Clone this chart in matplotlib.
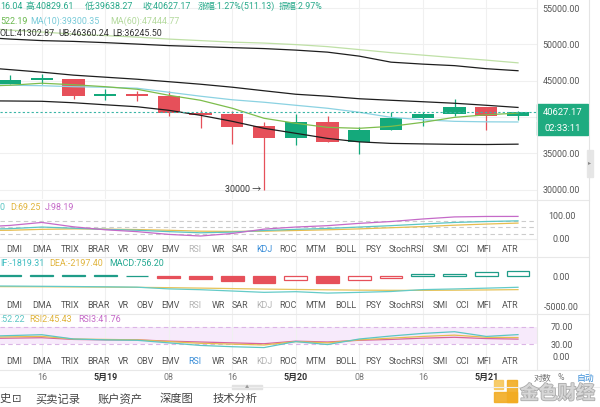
import numpy as np
import matplotlib
matplotlib.use('Agg')
import matplotlib.pyplot as plt
from matplotlib.patches import Rectangle
from matplotlib import patheffects
from matplotlib.transforms import blended_transform_factory

plt.rcParams['font.family'] = ['Roboto', 'Noto Sans CJK SC', 'DejaVu Sans']

# ---- data (4h candles, first one is just off the left edge) ----
idx = np.arange(-1, 17)
opens = [44300, 44600, 45100, 45190, 42900, 43200, 42850, 40600, 40350, 38700,
         37150, 39300, 36500, 38250, 39850, 40400, 41300, 40116.04]
closes = [44600, 45150, 45250, 42890, 43200, 42850, 40600, 40300, 38600, 37150,
          39250, 36550, 38250, 39900, 40450, 41350, 40116.04, 40627.17]
highs = [44900, 45750, 45850, 45200, 43800, 43600, 43550, 40900, 40780, 39300,
         40350, 40100, 38550, 40680, 40700, 42400, 41400, 40829.61]
lows = [44100, 44550, 44600, 42430, 42300, 42150, 40100, 38450, 36300, 30000,
        36100, 36500, 34850, 38250, 38700, 40100, 38150, 39638.27]

ma5 = [44230, 44360, 44640, 44430, 44160, 43810, 42980, 42290, 41190, 39810,
       39120, 38560, 38430, 38700, 39250, 39940, 40290, 40522.19]
ma10 = [44500, 44360, 44300, 44160, 44090, 43950, 43400, 42850, 42360, 42020,
        41600, 41190, 40640, 39940, 39600, 39390, 39320, 39300.35]
ma60 = [52240, 51960, 51690, 51410, 51200, 50990, 50720, 50510, 50300, 50170,
        49960, 49680, 49270, 48850, 48510, 48160, 47820, 47444.77]
boll_mid = [46850, 46510, 46160, 45750, 45470, 45190, 44850, 44500, 44090, 43600,
            43120, 42850, 42500, 42290, 42090, 41880, 41600, 41302.87]
boll_ub = [50990, 50720, 50510, 50400, 50230, 50030, 49820, 49680, 49540, 49410,
           49200, 48920, 48370, 47540, 47270, 47060, 46640, 46360.24]
boll_lb = [42220, 42190, 42150, 41950, 41670, 41400, 40910, 40220, 39390, 38430,
           37740, 37040, 36560, 36350, 36280, 36220, 36200, 36245.50]

kdj_k = [42, 45, 52, 47, 42, 38, 32, 27, 30, 37, 42, 46, 52, 58, 65, 72, 76, 78.90]
kdj_d = [37, 38, 42, 44, 43, 41, 38, 34, 33, 34, 37, 40, 44, 49, 54, 60, 65, 69.25]
kdj_j = [52, 59, 72, 53, 40, 32, 20, 13, 24, 43, 52, 58, 68, 76, 87, 96, 98, 98.19]

macd_dea = [-1700, -1715, -1735, -1760, -1790, -1830, -1880, -1950, -2030, -2110,
            -2170, -2230, -2280, -2310, -2320, -2290, -2250, -2197.40]
macd_dif = [-1600, -1625, -1660, -1700, -1745, -1800, -2080, -2210, -2420, -2635,
            -2530, -2755, -2640, -2500, -2195, -2090, -1960, -1819.31]
macd_hist = [200, 180, 150, 120, 90, 60, -400, -520, -780, -1050,
             -720, -1050, -720, -380, 250, 400, 580, 756.20]

rsi1 = [48, 50, 52, 42, 40, 39, 33, 27, 24, 22, 36, 29, 42, 49, 55, 59, 48, 52.22]
rsi2 = [46, 47, 48, 42, 41, 40, 36, 32, 30, 28, 36, 33, 40, 44, 48, 51, 46, 45.43]
rsi3 = [43, 44, 45, 41, 40, 40, 37, 35, 33, 31, 37, 35, 39, 41, 44, 46, 43, 41.76]

date_idx = [1, 3, 5, 7, 9, 11, 13, 15]
date_labels = ['16', '5月19', '08', '16', '5月20', '08', '16', '5月21']
tabs = ['DMI', 'DMA', 'TRIX', 'BRAR', 'VR', 'OBV', 'EMV', 'RSI', 'WR', 'SAR', 'KDJ',
        'ROC', 'MTM', 'BOLL', 'PSY', 'StochRSI', 'SMI', 'CCI', 'MFI', 'ATR']

# layout helpers
W, H = 600, 407
TAB_X = [14, 42, 70, 98, 123, 145, 170, 195, 218, 240, 264, 288, 316, 346, 373,
         407, 440, 462, 484, 510]
GREEN = '#14a97b'
RED = '#e6505a'
GREY = '#555555'
LIGHT = '#b4b4b4'
BLUE = '#3b8ed8'
FS = 6.4

fig = plt.figure(figsize=(6, 4.07), dpi=100)
fig.patch.set_facecolor('white')
renderer = fig.canvas.get_renderer()


def fy(y):
    return 1 - y / H


def make_ax(y0, y1, va, ya, vb, yb, ticks, labels):
    ax = fig.add_axes([0, fy(y1), 537 / W, (y1 - y0) / H])
    slope = (va - vb) / (yb - ya)
    ax.set_ylim(va - (y1 - ya) * slope, va + (ya - y0) * slope)
    ax.set_xlim((0 - 10) / 31.75, (537 - 10) / 31.75)
    for s in ax.spines.values():
        s.set_visible(False)
    ax.set_xticks(range(1, 17, 2))
    ax.tick_params(axis='x', length=0, labelbottom=False)
    ax.grid(axis='x', color='#f0f0f0', lw=0.8)
    ax.yaxis.tick_right()
    ax.set_yticks(ticks)
    ax.set_yticklabels(labels)
    # labels centred at about x=561
    ax.tick_params(axis='y', length=0, pad=17.6, labelsize=FS, labelcolor=GREY)
    for lab in ax.get_yticklabels():
        lab.set_horizontalalignment('center')
    ax.set_axisbelow(True)
    ax.patch.set_alpha(0)
    return ax, slope


def text_row(y, parts, fs=FS, gap=3):
    # parts: (start x, text, colour); push right if previous text runs into it
    end = -99
    for x, t, col in parts:
        x = max(x, end + gap)
        tt = fig.text(x / W, fy(y), t, ha='left', va='center', fontsize=fs, color=col)
        end = tt.get_window_extent(renderer).x1


# ---- main price panel ----
pticks = [30000, 35000, 40000, 45000, 50000, 55000]
ax, slope = make_ax(0, 199, 55000, 8, 30000, 189.5, pticks,
                    ['' if v == 40000 else f'{v:.2f}' for v in pticks])
ax.grid(axis='y', color='#f0f0f0', lw=0.8)

o = np.array(opens); c = np.array(closes)
cols = np.where(c >= o, GREEN, RED)
ax.vlines(idx, lows, highs, colors=cols, lw=0.9, zorder=2)
ax.bar(idx, np.maximum(np.abs(c - o), 1.5 * slope), 0.7, bottom=np.minimum(o, c),
       color=cols, zorder=3)

ax.plot(idx, ma60, color='#bfe0a6', lw=0.9, zorder=4)
ax.plot(idx, ma10, color='#8bd2e2', lw=0.9, zorder=4)
ax.plot(idx, ma5, color='#7dbd4c', lw=0.9, zorder=4)
for b in (boll_ub, boll_mid, boll_lb):
    ax.plot(idx, b, color='#1e1e1e', lw=0.9, zorder=4)

last = closes[-1]
ax.axhline(last, color='#3ab5a6', lw=0.8, ls=(0, (2, 2)), zorder=4)
ax.annotate('30000 →', xy=(8, 30000), xytext=(-2, 0), textcoords='offset points',
            ha='right', va='center', fontsize=FS, color='#333333')

bt = blended_transform_factory(ax.transAxes, ax.transData)
bw = 51 / 537
ax.add_patch(Rectangle((1.0, last - 8 * slope), bw, 16 * slope, transform=bt,
                       color='#1fab80', clip_on=False, zorder=10))
ax.add_patch(Rectangle((1.0, last - 23 * slope), bw, 14 * slope, transform=bt,
                       color='#1fab80', clip_on=False, zorder=10))
ax.text(1.0 + bw / 2, last, f'{last:.2f}', transform=bt, ha='center', va='center',
        color='white', fontsize=6.8, zorder=11, clip_on=False)
ax.text(1.0 + bw / 2, last - 16 * slope, '02:33:11', transform=bt, ha='center',
        va='center', color='white', fontsize=6.8, zorder=11, clip_on=False)

# header lines
HG = '#27a98a'
text_row(6.5, [(0, '16.04', HG), (25, '高:40829.61', HG), (85, '低:39638.27', HG),
               (142, '收:40627.17', HG), (198, '涨幅:1.27%(511.13)', HG),
               (268, '振幅:2.97%', HG)])
text_row(21, [(0, '522.19', '#6ab84e'), (25, 'MA(10):39300.35', '#78cad8'),
              (110, 'MA(60):47444.77', '#b3d99c')])
text_row(34, [(0, 'OLL:41302.87', '#333333'), (52, 'UB:46360.24', '#333333'),
              (100, 'LB:36245.50', '#333333')])

# ---- KDJ panel ----
ax, _ = make_ax(200, 257, 100, 216, 0, 239, [0, 100], ['0.00', '100.00'])
ax.axhline(0, color='#ececec', lw=0.8)
for lvl in (20, 50, 80):
    ax.axhline(lvl, color='#cccccc', lw=0.8, ls=(0, (4, 3)))
ax.plot(idx, kdj_d, color='#e6bd4f', lw=0.9)
ax.plot(idx, kdj_k, color='#5cc6c4', lw=0.9)
ax.plot(idx, kdj_j, color='#c56ac8', lw=0.9)
text_row(207, [(0, '0', '#5cc6c4'), (10, 'D:69.25', '#e0b43c'), (45, 'J:98.19', '#c56ac8')])

# ---- MACD panel ----
ax, _ = make_ax(257, 314, 0, 276, -5000, 307, [-5000, 0], ['-5000.00', '0.00'])
hist = np.array(macd_hist)
prev = np.concatenate([[hist[0]], hist[:-1]])
for x, h, p in zip(idx, hist, prev):
    col = '#1f9c88' if h >= 0 else RED
    hollow = h > p
    ax.bar(x, h, 0.72, facecolor='white' if hollow else col, edgecolor=col,
           lw=0.9, zorder=3)
ax.plot(idx, macd_dea, color='#e6c35a', lw=0.9, zorder=4)
ax.plot(idx, macd_dif, color='#64cbc8', lw=0.9, zorder=4)
text_row(263, [(0, 'IF:-1819.31', '#3dbcc0'), (49, 'DEA:-2197.40', '#e0b43c'),
               (109, 'MACD:756.20', '#22a890')])

# ---- RSI panel ----
ax, _ = make_ax(314, 370, 70, 327, 0, 357, [0, 30, 70], ['0.00', '30.00', '70.00'])
ax.axhspan(30, 70, color='#f7eafb', lw=0, zorder=0)
for lvl in (30, 70):
    ax.axhline(lvl, color='#dbb5e6', lw=0.8, ls=(0, (4, 3)))
ax.plot(idx, rsi3, color='#d6649a', lw=0.9)
ax.plot(idx, rsi2, color='#e6bd4f', lw=0.9)
ax.plot(idx, rsi1, color='#5cc6c4', lw=0.9)
text_row(319, [(0, ':52.22', '#5cc6c4'), (29, 'RSI2:45.43', '#e0b43c'),
               (78, 'RSI3:41.76', '#c56ac8')])

ax.set_xticks(date_idx)
ax.set_xticklabels(date_labels)
ax.tick_params(axis='x', labelbottom=True, pad=2.2, labelsize=FS)
for lab in ax.get_xticklabels():
    if '月' in lab.get_text():
        lab.set_fontweight('bold')
        lab.set_color('#333333')
    else:
        lab.set_color('#777777')

# ---- indicator tab rows ----
rows = [(250, {'KDJ': BLUE, 'RSI': LIGHT}),
        (305.5, {'KDJ': LIGHT, 'RSI': LIGHT}),
        (362, {'RSI': BLUE, 'KDJ': LIGHT})]
for y, special in rows:
    for t, x in zip(tabs, TAB_X):
        fig.text(x / W, fy(y), t, ha='center', va='center', fontsize=FS,
                 color=special.get(t, GREY))

# separators
for y in (200, 257, 314, 370):
    fig.add_artist(plt.Line2D([0, 589 / W], [fy(y), fy(y)], color='#e8e8e8', lw=0.8))
fig.add_artist(plt.Line2D([537 / W, 537 / W], [fy(0), fy(370)], color='#e8e8e8', lw=0.8))
fig.add_artist(plt.Line2D([589 / W, 589 / W], [fy(0), fy(387)], color='#e4e4e4', lw=0.8))
fig.add_artist(Rectangle((587 / W, fy(177)), 6 / W, 27 / H, color='#e6e6e6',
                         transform=fig.transFigure))
fig.text(590 / W, fy(163), '▸', ha='center', va='center', fontsize=4.5, color='#888888')

# bottom strip
fig.text(534 / W, fy(378), '对数', ha='left', va='center', fontsize=FS, color='#777777')
fig.text(561 / W, fy(378), '%', ha='center', va='center', fontsize=FS, color='#777777')
fig.text(577 / W, fy(378), '自动', ha='left', va='center', fontsize=FS, color=BLUE)
fig.add_artist(plt.Line2D([0, 1], [fy(387), fy(387)], color='#eeeeee', lw=0.8))
fig.add_artist(Rectangle((232 / W, fy(389)), 30 / W, 4 / H, color='#e2e2e2',
                         transform=fig.transFigure))
fig.text(247 / W, fy(387), '▲', ha='center', va='center', fontsize=3, color='#999999')

for x, t in [(0, '史'), (12, '⊡'), (35, '买卖记录'), (98, '账户资产'), (160, '深度图'),
             (213, '技术分析')]:
    fig.text(x / W, fy(399), t, ha='left', va='center', fontsize=8.1, color='#444444')

# watermark
gold = '#f2ac22'
for (x0, y0, w, h, cc) in [(494, 392, 23, 10, gold), (507, 380, 10, 22, gold),
                           (494, 380, 9, 9, '#f7c75a')]:
    fig.add_artist(Rectangle((x0 / W, fy(y0 + h)), w / W, h / H, color=cc,
                             transform=fig.transFigure, alpha=0.9))
wm = fig.text(520 / W, fy(394), '金色财经', ha='left', va='center', fontsize=13.5,
              color='#d6d6d6', fontweight='bold')
wm.set_path_effects([patheffects.withStroke(linewidth=1.2, foreground='#ababab')])

fig.savefig('out.png', dpi=100, facecolor='white')
